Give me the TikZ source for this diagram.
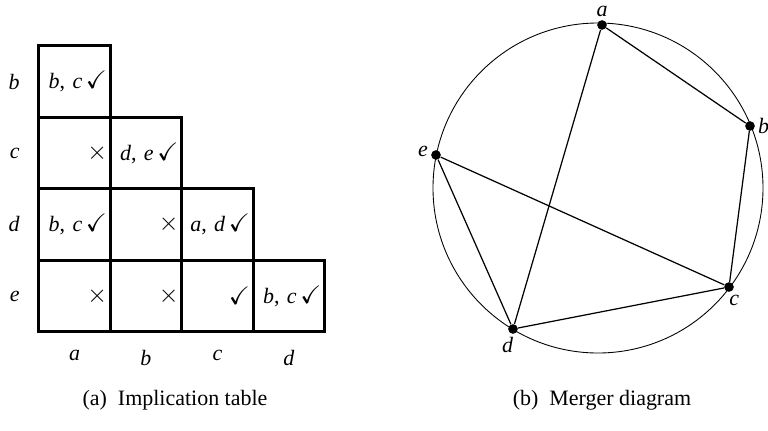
\documentclass[tikz,border=0pt]{standalone}
\usepackage{fontspec}
\usepackage{amssymb}
\setmainfont{Liberation Serif}
\usetikzlibrary{positioning}
\newcommand{\yes}{{\Large$\checkmark$}}
\newcommand{\no}{{\Large$\times$}}
\tikzset{
    cell/.style={rectangle, draw, line width=1.6pt, outer sep=0pt, minimum size=1.43cm, text width=1.3cm, align=right, inner sep=0pt, font=\fontsize{12.5}{15}\selectfont},
    axislabel/.style={font=\fontsize{12.5}{15}\selectfont\itshape},
    state/.style={circle, fill, inner sep=0pt, minimum size=5.5pt},
    every label/.style={font=\fontsize{12.5}{15}\selectfont\itshape, inner sep=1.5pt},
    merge/.style={line width=0.7pt},
    caption/.style={font=\fontsize{12.5}{15}\selectfont}
}

\begin{document}
\begin{tikzpicture}[x=0.02cm, y=-0.02cm, node distance=0pt]
    \useasboundingbox (0,0) rectangle (768,430);

    % implication table
    \node (ba) [cell] at (74.5,81.5) {\mbox{\textit{b}, \textit{c}\,\yes}};
    \node (ca) [cell, below=of ba] {\no};
    \node (cb) [cell, right=of ca] {\mbox{\textit{d}, \textit{e}\,\yes}};
    \node (da) [cell, below=of ca] {\mbox{\textit{b}, \textit{c}\,\yes}};
    \node (db) [cell, right=of da] {\no};
    \node (dc) [cell, right=of db] {\mbox{\textit{a}, \textit{d}\,\yes}};
    \node (ea) [cell, below=of da] {\no};
    \node (eb) [cell, right=of ea] {\no};
    \node (ec) [cell, right=of eb] {\yes};
    \node (ed) [cell, right=of ec] {\mbox{\textit{b}, \textit{c}\,\yes}};

    \node (rowb) [axislabel, left=0.26cm of ba] {b};
    \node (rowc) [axislabel, left=0.26cm of ca] {c};
    \node (rowd) [axislabel, left=0.26cm of da] {d};
    \node (rowe) [axislabel, left=0.26cm of ea] {e};
    \node (cola) [axislabel, below=0.25cm of ea] {a};
    \node (colb) [axislabel, below=0.25cm of eb] {b};
    \node (colc) [axislabel, below=0.25cm of ec] {c};
    \node (cold) [axislabel, below=0.25cm of ed] {d};

    \node (capa) [caption] at (175,400) {(a)\enspace Implication table};

    % merger diagram
    \draw [line width=0.5pt] (598,188) circle [radius=165];
    \node (a) [state, label=above:a] at (602,25) {};
    \node (b) [state, label=right:b] at (750,126) {};
    \node (e) [state, label={[yshift=2pt]left:e}] at (436,155) {};
    \node (c) [state, label={[xshift=3pt]below:c}] at (729,287) {};
    \node (d) [state, label={[xshift=-3pt]below:d}] at (513,329) {};

    \draw [merge] (a) -- (b);
    \draw [merge] (a) -- (d);
    \draw [merge] (b) -- (c);
    \draw [merge] (e) -- (c);
    \draw [merge] (e) -- (d);
    \draw [merge] (d) -- (c);

    \node (capb) [caption] at (602,400) {(b)\enspace Merger diagram};
\end{tikzpicture}
\end{document}
